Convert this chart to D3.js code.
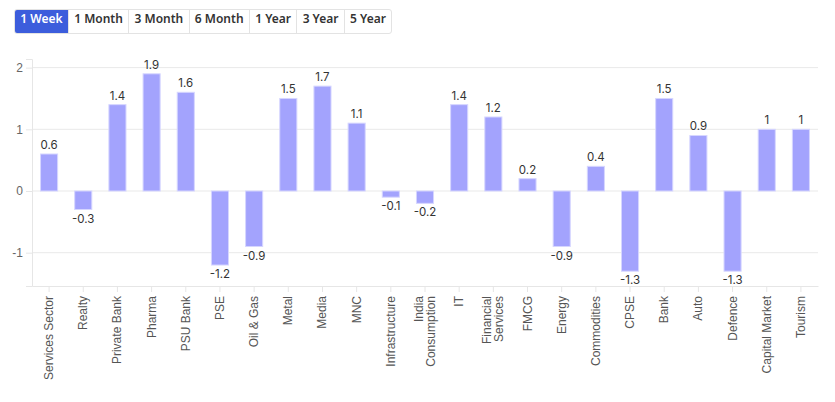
<!DOCTYPE html>
<html>
<head>
<meta charset="utf-8">
<script src="https://cdn.jsdelivr.net/npm/d3@7"></script>
<style>
  body { margin: 0; background: #fff; font-family: "Liberation Sans", Arial, sans-serif; }
  .btns { position: absolute; left: 14px; top: 9px; display: flex; border: 1px solid #e3e3e3; border-radius: 3px; overflow: hidden; }
  .btns div { height: 23px; line-height: 23px; padding: 0 5.3px; font: 600 12px "Noto Sans", sans-serif; color: #333; border-left: 1px solid #e3e3e3; }
  .btns div:first-child { border-left: none; }
  .btns div.on { background: #3c5ddc; color: #fff; }
</style>
</head>
<body>
<svg id="chart" width="835" height="402" style="position:absolute;left:0;top:0"></svg>
<div class="btns" id="btns"></div>
<script>
var periods = ['1 Week', '1 Month', '3 Month', '6 Month', '1 Year', '3 Year', '5 Year'];
var sectors = ['Services Sector', 'Realty', 'Private Bank', 'Pharma', 'PSU Bank', 'PSE', 'Oil & Gas',
	'Metal', 'Media', 'MNC', 'Infrastructure', 'India Consumption', 'IT', 'Financial Services',
	'FMCG', 'Energy', 'Commodities', 'CPSE', 'Bank', 'Auto', 'Defence', 'Capital Market', 'Tourism'];
var returns = [0.6, -0.3, 1.4, 1.9, 1.6, -1.2, -0.9, 1.5, 1.7, 1.1, -0.1, -0.2, 1.4, 1.2,
	0.2, -0.9, 0.4, -1.3, 1.5, 0.9, -1.3, 1, 1];
var yTicks = [-1, 0, 1, 2];

d3.select('#btns').selectAll('div')
	.data(periods)
	.enter().append('div')
	.classed('on', function (d, i) { return i === 0; })
	.text(function (d) { return d; });

var plotLeft = 32, plotRight = 818, plotTop = 59, plotBottom = 286;
var svg = d3.select('#chart');

var x = d3.scaleBand().domain(sectors).range([plotLeft, plotRight])
	.paddingInner(0.5).paddingOuter(0.25);
var y = d3.scaleLinear().domain([-1.54, 2.14]).range([plotBottom, plotTop]);

// grid
svg.append('g').selectAll('line')
	.data(yTicks)
	.enter().append('line')
	.attr('x1', plotLeft).attr('x2', plotRight)
	.attr('y1', function (d) { return y(d); })
	.attr('y2', function (d) { return y(d); })
	.attr('stroke', '#e9e9e9');

var yAxis = svg.append('g')
	.attr('transform', 'translate(' + plotLeft + ',0)')
	.call(d3.axisLeft(y).tickValues(yTicks).tickSize(6).tickFormat(function (d) { return String(d); }));
yAxis.select('.domain').attr('stroke', '#e6e6e6');
yAxis.selectAll('.tick line').attr('stroke', '#e6e6e6');
yAxis.selectAll('text').attr('fill', '#666').style('font-size', '12px')
	.style('font-family', '"Liberation Sans", Arial, sans-serif');

var xAxis = svg.append('g')
	.attr('transform', 'translate(0,' + plotBottom + ')')
	.call(d3.axisBottom(x).tickSize(6).tickSizeOuter(0));
xAxis.select('.domain').attr('stroke', '#e6e6e6');
xAxis.selectAll('.tick line').attr('stroke', '#e6e6e6');
xAxis.selectAll('.tick text').remove();
xAxis.selectAll('.tick').each(function (d) {
	var words = d.split(' ');
	var lines = (d === 'India Consumption' || d === 'Financial Services') ? words : [d];
	var t = d3.select(this).append('text')
		.attr('transform', 'rotate(-90)')
		.attr('text-anchor', 'end')
		.attr('fill', '#555')
		.style('font-size', '12px')
		.style('font-family', '"Liberation Sans", Arial, sans-serif');
	lines.forEach(function (l, i) {
		t.append('tspan')
			.attr('x', -10)
			.attr('y', (i - (lines.length - 1) / 2) * 12 + 4)
			.text(l);
	});
});

svg.append('g').selectAll('rect')
	.data(returns)
	.enter().append('rect')
	.attr('x', function (d, i) { return x(sectors[i]); })
	.attr('width', x.bandwidth())
	.attr('y', function (d) { return y(Math.max(0, d)); })
	.attr('height', function (d) { return Math.abs(y(d) - y(0)); })
	.attr('fill', '#a3a3fd')
	.attr('stroke', '#d6d6ff')
	.attr('stroke-width', 1);

svg.append('g').selectAll('text')
	.data(returns)
	.enter().append('text')
	.attr('x', function (d, i) { return x(sectors[i]) + x.bandwidth() / 2; })
	.attr('y', function (d) { return d >= 0 ? y(d) - 5 : y(d) + 13; })
	.attr('text-anchor', 'middle')
	.attr('fill', '#333')
	.style('font-size', '11.5px')
	.style('font-family', 'Inter, "Noto Sans", sans-serif')
	.text(function (d) { return d; });
</script>
</body>
</html>
